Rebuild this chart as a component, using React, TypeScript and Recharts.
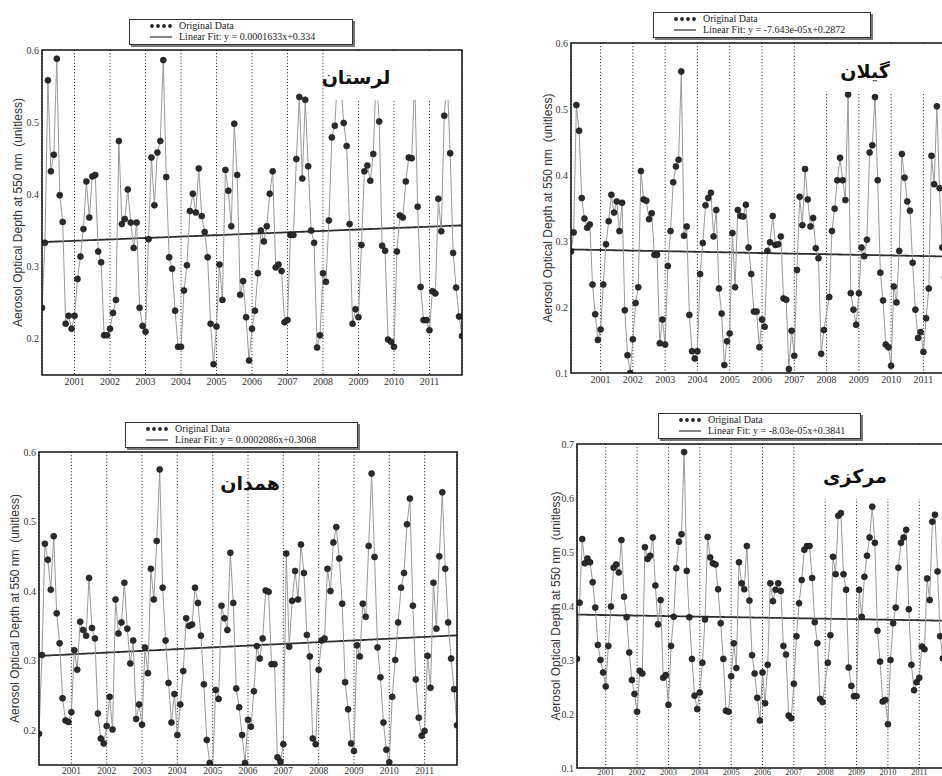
import React from "react";
import { LineChart, Line, XAxis, YAxis, CartesianGrid, ReferenceArea } from "recharts";

// monthly MODIS AOD, Feb 2000 .. Dec 2011
const START = 2000 + 1 / 12;
const years = [2001, 2002, 2003, 2004, 2005, 2006, 2007, 2008, 2009, 2010, 2011];

const lorestan = [
  0.243, 0.333, 0.558, 0.432, 0.455, 0.588, 0.399, 0.362, 0.221, 0.232, 0.214,
  0.232, 0.283, 0.314, 0.352, 0.418, 0.368, 0.425, 0.427, 0.321, 0.306, 0.205, 0.205,
  0.214, 0.236, 0.254, 0.474, 0.359, 0.366, 0.407, 0.361, 0.326, 0.361, 0.243, 0.218,
  0.21, 0.338, 0.451, 0.385, 0.458, 0.474, 0.586, 0.424, 0.313, 0.297, 0.239, 0.189,
  0.189, 0.267, 0.302, 0.377, 0.401, 0.375, 0.436, 0.37, 0.348, 0.313, 0.221, 0.165,
  0.217, 0.303, 0.254, 0.434, 0.405, 0.356, 0.498, 0.427, 0.261, 0.28, 0.23, 0.17,
  0.214, 0.239, 0.291, 0.35, 0.335, 0.356, 0.401, 0.432, 0.299, 0.303, 0.294, 0.223,
  0.226, 0.344, 0.344, 0.449, 0.535, 0.422, 0.531, 0.439, 0.35, 0.333, 0.188, 0.205,
  0.291, 0.279, 0.364, 0.479, 0.495, 0.57, 0.56, 0.499, 0.467, 0.359, 0.221, 0.241,
  0.23, 0.33, 0.432, 0.44, 0.419, 0.456, 0.57, 0.501, 0.329, 0.322, 0.199, 0.196,
  0.189, 0.321, 0.371, 0.368, 0.418, 0.451, 0.45, 0.56, 0.383, 0.272, 0.226, 0.226,
  0.212, 0.266, 0.263, 0.394, 0.349, 0.509, 0.56, 0.457, 0.319, 0.271, 0.231, 0.204,
];

const gilan = [
  0.284, 0.313, 0.506, 0.467, 0.365, 0.334, 0.32, 0.325, 0.234, 0.189, 0.15,
  0.166, 0.234, 0.295, 0.33, 0.37, 0.343, 0.36, 0.315, 0.358, 0.195, 0.127, 0.1,
  0.151, 0.206, 0.23, 0.406, 0.363, 0.361, 0.333, 0.342, 0.279, 0.279, 0.145, 0.181,
  0.143, 0.262, 0.315, 0.389, 0.413, 0.423, 0.557, 0.308, 0.322, 0.188, 0.133, 0.122,
  0.133, 0.25, 0.297, 0.354, 0.365, 0.373, 0.307, 0.347, 0.228, 0.19, 0.112, 0.148,
  0.16, 0.312, 0.23, 0.347, 0.338, 0.337, 0.355, 0.29, 0.25, 0.193, 0.193, 0.139,
  0.181, 0.17, 0.285, 0.298, 0.338, 0.294, 0.295, 0.307, 0.213, 0.211, 0.106, 0.164,
  0.126, 0.256, 0.367, 0.324, 0.409, 0.363, 0.322, 0.335, 0.289, 0.274, 0.129, 0.165,
  null, 0.215, 0.315, 0.349, 0.392, 0.426, 0.392, 0.362, 0.522, 0.221, 0.196, 0.173,
  0.221, 0.29, 0.277, 0.302, 0.434, 0.445, 0.518, 0.392, 0.252, 0.21, 0.143, 0.139,
  0.111, 0.231, 0.207, 0.285, 0.432, 0.396, 0.36, 0.346, 0.267, 0.196, 0.153, 0.162,
  0.132, 0.183, 0.228, 0.429, 0.386, 0.504, 0.38, 0.29, 0.245, 0.2, 0.17, 0.16,
];

const hamadan = [
  0.195, 0.308, 0.468, 0.445, 0.402, 0.479, 0.368, 0.325, 0.246, 0.214, 0.212,
  0.226, 0.315, 0.287, 0.356, 0.344, 0.336, 0.419, 0.347, 0.332, 0.224, 0.188, 0.181,
  0.206, 0.248, 0.201, 0.388, 0.339, 0.355, 0.412, 0.346, 0.296, 0.329, 0.216, 0.237,
  0.208, 0.319, 0.282, 0.432, 0.388, 0.472, 0.575, 0.405, 0.329, 0.268, 0.211, 0.252,
  0.193, 0.237, 0.285, 0.361, 0.35, 0.352, 0.405, 0.383, 0.336, 0.266, 0.186, 0.153,
  0.145, 0.258, 0.245, 0.379, 0.361, 0.344, 0.455, 0.383, 0.26, 0.233, 0.193, 0.153,
  0.215, 0.205, 0.256, 0.321, 0.303, 0.332, 0.401, 0.399, 0.295, 0.295, 0.161, 0.155,
  0.18, 0.454, 0.32, 0.386, 0.429, 0.388, 0.467, 0.426, 0.337, 0.306, 0.188, 0.18,
  0.287, 0.329, 0.332, 0.432, 0.4, 0.47, 0.492, 0.447, 0.382, 0.269, 0.23, 0.181,
  0.17, 0.322, 0.306, 0.382, 0.363, 0.465, 0.569, 0.449, 0.319, 0.276, 0.211, 0.172,
  0.154, 0.248, 0.301, 0.355, 0.405, 0.426, 0.496, 0.533, 0.379, 0.273, 0.218, 0.192,
  0.199, 0.307, 0.261, 0.412, 0.346, 0.45, 0.542, 0.432, 0.355, 0.303, 0.259, 0.207,
];

const markazi = [
  0.302, 0.406, 0.524, 0.479, 0.488, 0.481, 0.444, 0.397, 0.328, 0.3, 0.277,
  0.251, 0.326, 0.399, 0.471, 0.477, 0.462, 0.522, 0.417, 0.379, 0.314, 0.263, 0.237,
  0.204, 0.28, 0.275, 0.509, 0.487, 0.493, 0.527, 0.438, 0.366, 0.411, 0.267, 0.272,
  0.217, 0.326, 0.38, 0.47, 0.519, 0.533, 0.685, 0.465, 0.379, 0.302, 0.234, 0.209,
  0.24, 0.295, 0.375, 0.528, 0.49, 0.479, 0.477, 0.431, 0.368, 0.302, 0.206, 0.204,
  0.27, 0.331, 0.285, 0.481, 0.442, 0.431, 0.511, 0.41, 0.309, 0.275, 0.23, 0.188,
  0.277, 0.22, 0.291, 0.442, 0.409, 0.43, 0.442, 0.428, 0.326, 0.31, 0.197, 0.192,
  0.256, 0.344, 0.405, 0.448, 0.504, 0.511, 0.511, 0.452, 0.37, 0.331, 0.228, 0.222,
  null, 0.295, 0.346, 0.491, 0.459, 0.567, 0.572, 0.459, 0.43, 0.286, 0.252, 0.233,
  0.233, 0.43, 0.38, 0.454, 0.493, 0.527, 0.584, 0.517, 0.354, 0.297, 0.223, 0.226,
  0.181, 0.3, 0.368, 0.397, 0.471, 0.517, 0.527, 0.541, 0.394, 0.291, 0.244, 0.259,
  0.267, 0.325, 0.32, 0.451, 0.411, 0.556, 0.569, 0.464, 0.344, 0.303, 0.27, 0.25,
];

const YLABEL = "Aerosol Optical Depth at 550 nm\u00a0\u00a0(unitless)";
const serif = "'Liberation Serif', 'Times New Roman', serif";
const sans = "'Liberation Sans', Arial, sans-serif";

const panels = [
  {
    name: "لرستان", values: lorestan, slope: 0.0001633, icpt: 0.334,
    fitText: "Linear Fit: y = 0.0001633x+0.334",
    left: 0, top: 0, margin: { top: 50, right: 28, bottom: 2, left: 12 }, labelOffset: 6,
    yDomain: [0.15, 0.6], yTicks: [0.2, 0.3, 0.4, 0.5, 0.6], xFont: 10, xTickSize: 3,
    mask: [2008.2, 0.531, 0.598],
    legend: { left: 129, top: 19, width: 224 }, title: { x: 356, y: 77 },
  },
  {
    name: "گیلان", values: gilan, slope: -7.643e-5, icpt: 0.2872,
    fitText: "Linear Fit: y = -7.643e-05x+0.2872",
    left: 471, top: 0, margin: { top: 43, right: 8, bottom: 4, left: 70 }, labelOffset: 7,
    yDomain: [0.1, 0.6], yTicks: [0.1, 0.2, 0.3, 0.4, 0.5, 0.6], xFont: 10, xTickSize: 3,
    mask: [2007.6, 0.526, 0.598],
    legend: { left: 653, top: 12, width: 218 }, title: { x: 865, y: 71 },
  },
  {
    name: "همدان", values: hamadan, slope: 0.0002086, icpt: 0.3068,
    fitText: "Linear Fit: y = 0.0002086x+0.3068",
    left: 0, top: 395, margin: { top: 57, right: 33, bottom: 7, left: 9 }, labelOffset: 6,
    yDomain: [0.15, 0.6], yTicks: [0.2, 0.3, 0.4, 0.5, 0.6], xFont: 9.5, xTickSize: 2,
    mask: null,
    legend: { left: 125, top: 422, width: 233 }, title: { x: 250, y: 483 },
  },
  {
    name: "مرکزی", values: markazi, slope: -8.03e-5, icpt: 0.3841,
    fitText: "Linear Fit: y = -8.03e-05x+0.3841",
    left: 471, top: 395, margin: { top: 49, right: 13, bottom: 4, left: 76 }, labelOffset: 9,
    yDomain: [0.1, 0.7], yTicks: [0.1, 0.2, 0.3, 0.4, 0.5, 0.6, 0.7], xFont: 8.5, xTickSize: 1,
    mask: [2007.5, 0.598, 0.698],
    legend: { left: 658, top: 413, width: 203 }, title: { x: 855, y: 476 },
  },
];

function LegendBox({ left, top, width, fitText }: any) {
  return (
    <div
      style={{
        position: "absolute", left, top, width, height: 26, boxSizing: "border-box",
        border: "1px solid #333", boxShadow: "2px 2px 0 #777", background: "#fff",
        fontFamily: serif, fontSize: 10, color: "#222", lineHeight: "11px",
      }}
    >
      <div style={{ position: "absolute", left: 19, top: 0, display: "flex", alignItems: "center", whiteSpace: "nowrap" }}>
        <svg width={24} height={11}>
          {[0, 1, 2, 3].map((k) => (
            <circle key={k} cx={3 + k * 6} cy={6} r={1.9} fill="#222" />
          ))}
        </svg>
        <span style={{ marginLeft: 6 }}>Original Data</span>
      </div>
      <div style={{ position: "absolute", left: 19, top: 11, display: "flex", alignItems: "center", whiteSpace: "nowrap" }}>
        <svg width={24} height={11}>
          <line x1={1} x2={23} y1={6} y2={6} stroke="#333" strokeWidth={1.2} />
        </svg>
        <span style={{ marginLeft: 6 }}>{fitText}</span>
      </div>
    </div>
  );
}

function Panel({ p }: { p: any }) {
  const rows = p.values.map((v: number | null, i: number) => ({
    t: START + i / 12,
    aod: v,
    fit: p.slope * i + p.icpt,
  }));
  const x0 = rows[0].t;
  const x1 = rows[rows.length - 1].t;
  const [y0, y1] = p.yDomain;
  return (
    <div style={{ position: "absolute", left: p.left, top: p.top }}>
      <LineChart width={490} height={395} data={rows} margin={p.margin}>
        <CartesianGrid horizontal={false} stroke="#111" strokeDasharray="1 2.2" />
        <XAxis
          type="number" dataKey="t" domain={[x0, x1]} ticks={years} interval={0}
          allowDataOverflow axisLine={false} tickLine={false} tickSize={p.xTickSize} tickMargin={0}
          height={18} tick={{ fontSize: p.xFont, fill: "#333", fontFamily: serif }}
        />
        <YAxis
          type="number" domain={p.yDomain} ticks={p.yTicks} interval={0}
          allowDataOverflow axisLine={false} tickLine={false} tickSize={2} tickMargin={1}
          width={30} tickFormatter={(v: number) => v.toFixed(1)}
          tick={{ fontSize: 10, fill: "#333", fontFamily: serif }}
          label={{
            value: YLABEL, angle: -90, position: "insideLeft", offset: p.labelOffset,
            style: { textAnchor: "middle", fontSize: 12, fontFamily: sans, fill: "#333" },
          }}
        />
        <Line
          type="linear" dataKey="fit" stroke="#2e2e2e" strokeWidth={1.8}
          dot={false} activeDot={false} isAnimationActive={false}
        />
        <Line
          type="linear" dataKey="aod" stroke="#9a9a9a" strokeWidth={1} connectNulls
          dot={{ r: 3, fill: "#2b2b2b", stroke: "#111", strokeWidth: 0.6 }}
          activeDot={false} isAnimationActive={false}
        />
        {p.mask && (
          <ReferenceArea
            x1={p.mask[0]} x2={x1} y1={p.mask[1]} y2={p.mask[2]}
            fill="#fff" fillOpacity={1} stroke="none" ifOverflow="visible" zIndex={1000}
          />
        )}
        <ReferenceArea
          x1={x0} x2={x1} y1={y0} y2={y1} fill="none" fillOpacity={0}
          stroke="#111" strokeWidth={1.5} ifOverflow="visible" zIndex={1001}
        />
      </LineChart>
    </div>
  );
}

export default function App() {
  return (
    <div
      style={{
        position: "absolute", left: 0, top: 0, width: 942, height: 776,
        overflow: "hidden", background: "#fff",
      }}
    >
      {panels.map((p) => (
        <Panel key={p.name} p={p} />
      ))}
      {panels.map((p) => (
        <LegendBox key={"l" + p.name} {...p.legend} fitText={p.fitText} />
      ))}
      {panels.map((p) => (
        <div
          key={"t" + p.name}
          style={{
            position: "absolute", left: p.title.x, top: p.title.y,
            transform: "translate(-50%, -50%)", direction: "rtl", whiteSpace: "nowrap",
            fontFamily: "'DejaVu Sans', sans-serif", fontWeight: "bold", fontSize: 19, color: "#111",
          }}
        >
          {p.name}
        </div>
      ))}
    </div>
  );
}
